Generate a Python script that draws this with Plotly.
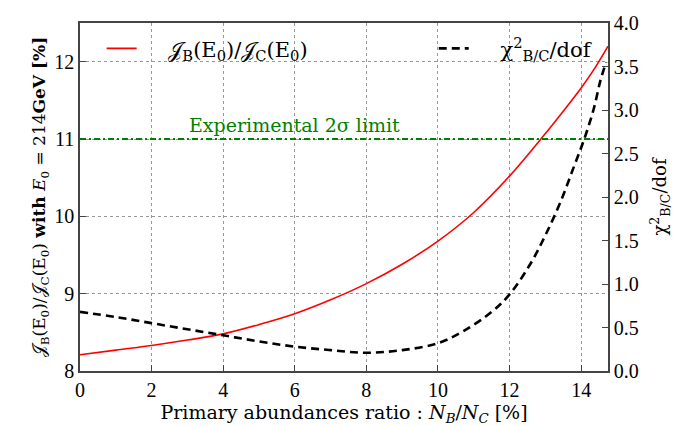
import plotly.graph_objects as go

# ---- data ----
ratio_x = [0, 1, 2, 3, 4, 5, 6, 7, 8, 9, 10, 11, 12, 13, 13.5, 14, 14.4, 14.75]
flux_ratio = [8.21, 8.27, 8.33, 8.40, 8.48, 8.60, 8.74, 8.92, 9.13, 9.38, 9.68,
              10.05, 10.52, 11.07, 11.36, 11.66, 11.93, 12.20]

chi_x = [0, 1, 2, 3, 4, 5, 6, 7, 8, 9, 10, 10.7, 11.5, 12, 12.58, 13, 13.42, 13.79,
         14.09, 14.35, 14.54, 14.7]
chi2_dof = [0.68, 0.62, 0.55, 0.48, 0.41, 0.34, 0.28, 0.24, 0.21, 0.24, 0.32, 0.455,
            0.68, 0.88, 1.23, 1.56, 1.94, 2.34, 2.67, 3.01, 3.34, 3.55]

limit_value = 11.0
limit_label = "Experimental 2σ limit"
limit_label_pos = (6.0, 11.18)

x_ticks = [0, 2, 4, 6, 8, 10, 12, 14]
y_ticks = [8, 9, 10, 11, 12]
y2_ticks = [0.0, 0.5, 1.0, 1.5, 2.0, 2.5, 3.0, 3.5, 4.0]

TICKFONT = "Liberation Serif"
TEXTFONT = "DejaVu Serif"
J = "𝒥"
NB = "\u00a0"

fig = go.Figure()
fig.add_trace(go.Scatter(
    x=ratio_x, y=flux_ratio, mode="lines", line=dict(color="red", width=1.6, shape="spline"),
    name=NB * 4 + f"{J}<sub>B</sub>(E<sub>0</sub>)/{J}<sub>C</sub>(E<sub>0</sub>)",
    legend="legend",
))
fig.add_trace(go.Scatter(
    x=chi_x, y=chi2_dof, mode="lines", yaxis="y2",
    line=dict(color="black", width=2.6, dash="8px,5px", shape="spline"),
    name=NB * 4 + "χ<sup>2</sup><sub>B/C</sub>/dof",
    legend="legend2",
))
fig.add_trace(go.Scatter(
    x=[0, 14.75], y=[limit_value, limit_value], mode="lines", showlegend=False,
    line=dict(color="#008000", width=2, dash="6px,3px,2px,3px"),
))

fig.add_annotation(x=limit_label_pos[0], y=limit_label_pos[1], text=limit_label,
                   showarrow=False, font=dict(family=TEXTFONT, size=19, color="#008000"))

axis_common = dict(ticks="inside", ticklen=6, tickcolor="#444", showline=True,
                   linecolor="#444", linewidth=1.5,
                   tickfont=dict(family=TICKFONT, size=20, color="black"))

legend_common = dict(orientation="h", y=0.985, xanchor="left", yanchor="top",
                     bgcolor="rgba(0,0,0,0)", font=dict(family=TEXTFONT, size=21))

fig.update_layout(
    width=681, height=426,
    margin=dict(l=80, r=73, t=17, b=47),
    plot_bgcolor="white", paper_bgcolor="white",
    font=dict(family=TEXTFONT, size=18, color="black"),
    xaxis=dict(range=[0, 14.75], tickvals=x_ticks, mirror=True,
               showgrid=True, gridcolor="#999", griddash="dot", gridwidth=1,
               zeroline=False,
               title=dict(text="Primary abundances ratio : <i>N<sub>B</sub></i>/<i>N<sub>C</sub></i> [%]",
                          font=dict(family=TEXTFONT, size=19), standoff=0),
               **axis_common),
    yaxis=dict(range=[8, 12.5], tickvals=y_ticks,
               showgrid=True, gridcolor="#999", griddash="dot", gridwidth=1,
               zeroline=False,
               title=dict(text=f"{J}<sub>B</sub>(E<sub>0</sub>)/{J}<sub>C</sub>(E<sub>0</sub>) <b>with</b> <i>E</i><sub>0</sub> = 214<b>GeV [%]</b>",
                          font=dict(family=TEXTFONT, size=17), standoff=4),
               **axis_common),
    yaxis2=dict(range=[0, 4], tickvals=y2_ticks, tickformat=".1f", overlaying="y", side="right",
                showgrid=False, zeroline=False,
                title=dict(text="χ<sup>2</sup><sub>B/C</sub>/dof", font=dict(family=TEXTFONT, size=18), standoff=16),
                **axis_common),
    legend=dict(x=0.041, **legend_common),
    legend2=dict(x=0.670, **legend_common),
)

fig.write_html("out.html")
